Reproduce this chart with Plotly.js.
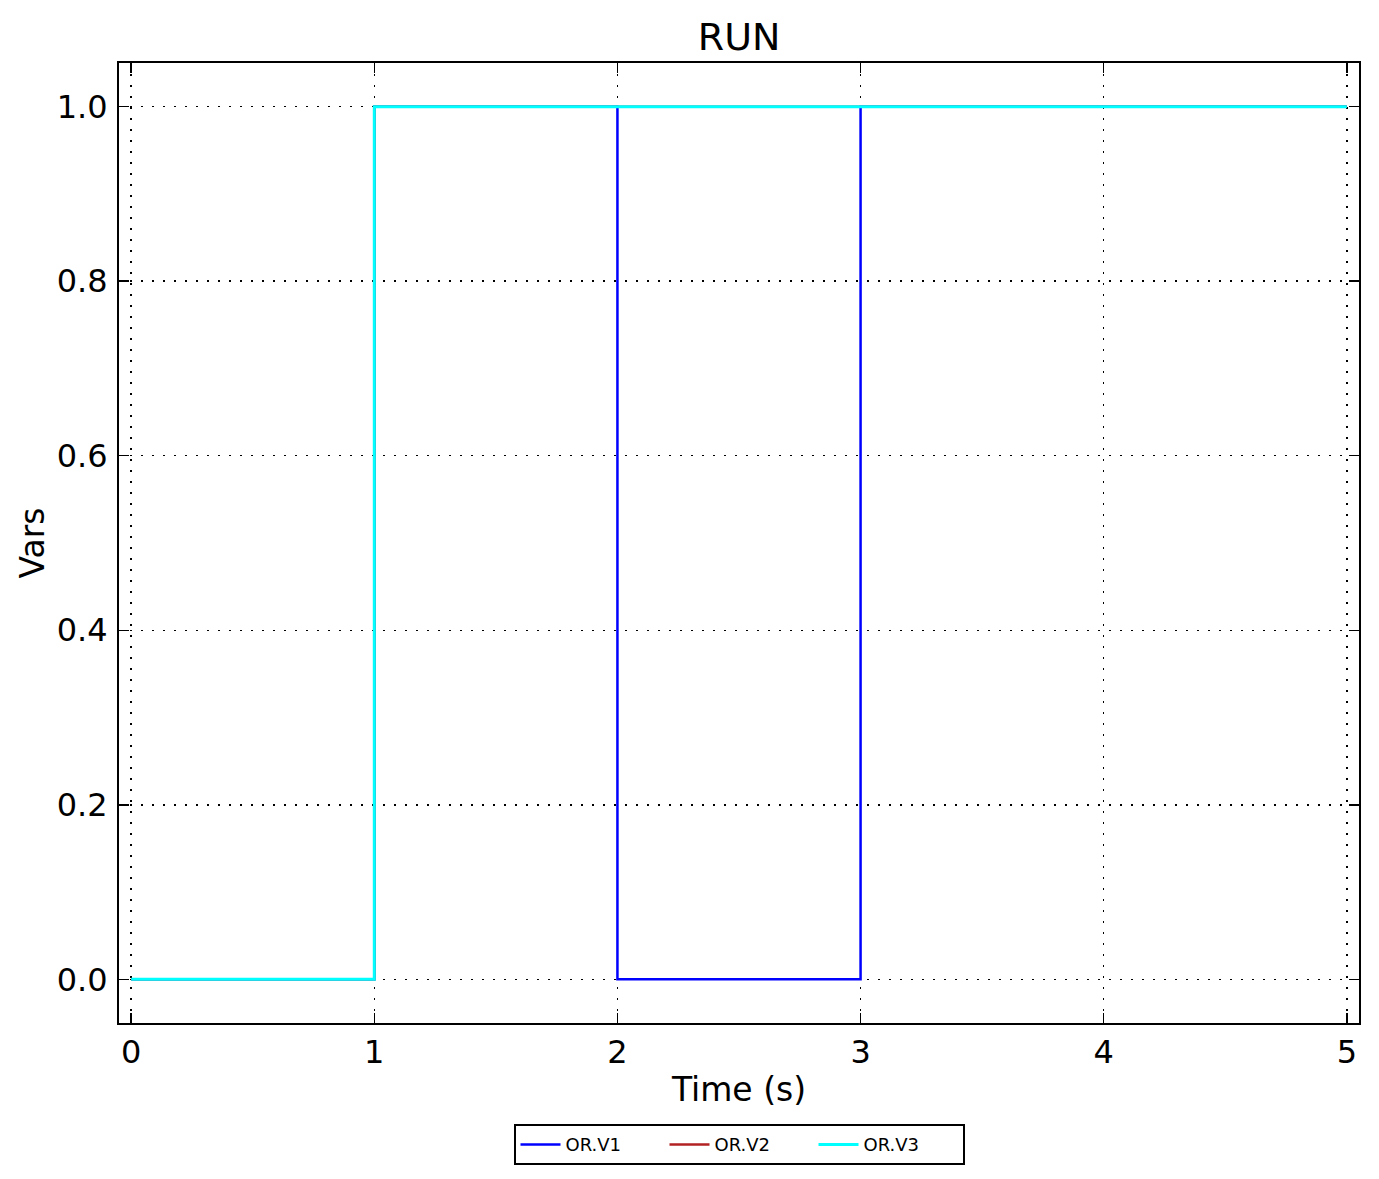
<!DOCTYPE html>
<html>
<head>
<meta charset="utf-8">
<script src="https://cdn.plot.ly/plotly-3.0.1.min.js"></script>
<style>html,body{margin:0;padding:0;background:#fff;}#chart{width:1379px;height:1179px;}</style>
</head>
<body>
<div id="chart"></div>
<script>
// Data (step signals)
const timeV1 = [0, 1, 2, 3, 5];
const valV1  = [0, 1, 0, 1, 1];
const timeV2 = [0, 1, 5];
const valV2  = [0, 1, 1];
const timeV3 = [0, 1, 5];
const valV3  = [0, 1, 1];
const seriesNames = ["OR.V1", "OR.V2", "OR.V3"];
const xTickVals = [0, 1, 2, 3, 4, 5];
const xTickText = ["0", "1", "2", "3", "4", "5"];
const yTickVals = [0, 0.2, 0.4, 0.6, 0.8, 1.0];
const yTickText = ["0.0", "0.2", "0.4", "0.6", "0.8", "1.0"];

const FONT = "DejaVu Sans, Liberation Sans, sans-serif";

const traces = [
  {x: timeV1, y: valV1, name: seriesNames[0], mode: "lines", line: {shape: "hv", color: "#0000ff", width: 2.5}},
  {x: timeV2, y: valV2, name: seriesNames[1], mode: "lines", line: {shape: "hv", color: "#b22222", width: 2.5}},
  {x: timeV3, y: valV3, name: seriesNames[2], mode: "lines", line: {shape: "hv", color: "#00ffff", width: 3}}
];

const axisCommon = {
  showline: true, linecolor: "#000", linewidth: 2, mirror: "ticks",
  ticks: "inside", ticklen: 10, tickwidth: 1.5, tickcolor: "#000",
  showgrid: true, gridcolor: "#000", gridwidth: 1.5, griddash: "2px,9px",
  zeroline: false,
  tickfont: {family: FONT, size: 32, color: "#000"},
  tickmode: "array"
};

const layout = {
  width: 1379, height: 1179,
  margin: {l: 119, r: 20, t: 63, b: 156},
  paper_bgcolor: "#fff", plot_bgcolor: "#fff",
  font: {family: FONT, color: "#000"},
  title: {text: "RUN", font: {family: FONT, size: 38, color: "#000"}, x: 0.536, xanchor: "center", y: 0.969, yanchor: "middle"},
  xaxis: Object.assign({}, axisCommon, {
    range: [-0.05, 5.05], tickvals: xTickVals, ticktext: xTickText,
    title: {text: "Time (s)", font: {family: FONT, size: 33, color: "#000"}, standoff: 7}
  }),
  yaxis: Object.assign({}, axisCommon, {
    range: [-0.05, 1.05], tickvals: yTickVals, ticktext: yTickText, ticklabelstandoff: 3,
    title: {text: "Vars", font: {family: FONT, size: 33, color: "#000"}, standoff: 2}
  }),
  showlegend: true,
  legend: {
    orientation: "h", x: 0.5, xanchor: "center", y: -0.1054, yanchor: "top",
    bordercolor: "#000", borderwidth: 2, bgcolor: "#fff",
    font: {family: FONT, size: 18, color: "#000"},
    itemwidth: 40,
    entrywidth: 94, entrywidthmode: "pixels", traceorder: "normal"
  }
};

Plotly.newPlot("chart", traces, layout, {displayModeBar: false, staticPlot: true});
</script>
</body>
</html>
